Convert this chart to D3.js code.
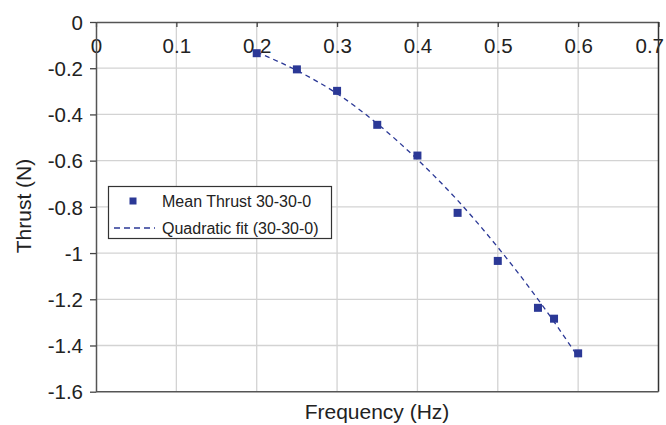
<!DOCTYPE html>
<html>
<head>
<meta charset="utf-8">
<script src="https://cdn.jsdelivr.net/npm/d3@7"></script>
<style>
  html, body { margin: 0; padding: 0; background: #fff; }
  svg { display: block; font-family: "Liberation Sans", Arial, sans-serif; }
</style>
</head>
<body>
<svg id="chart" width="666" height="425"></svg>
<script>
// ---- data ----
const freqs = [0.2, 0.25, 0.3, 0.35, 0.4, 0.45, 0.5, 0.55, 0.57, 0.6];
const meanThrust = [-0.135, -0.205, -0.298, -0.445, -0.578, -0.826, -1.034, -1.237, -1.284, -1.434];
const fitFreqs = [0.2, 0.25, 0.3, 0.35, 0.4, 0.45, 0.5, 0.55, 0.6];
const fitThrust = [-0.13, -0.21, -0.31, -0.44, -0.595, -0.772, -0.975, -1.2, -1.45];
const xTicks = [0, 0.1, 0.2, 0.3, 0.4, 0.5, 0.6, 0.7];
const yTicks = [0, -0.2, -0.4, -0.6, -0.8, -1, -1.2, -1.4, -1.6];
const seriesNames = ["Mean Thrust 30-30-0", "Quadratic fit (30-30-0)"];

(function () {
const svg = d3.select("#chart");
const mL = 96, mR = 658.5, mT = 22, mB = 391.7;
const color = "#2b3896";
const fmt = d => d === 0 ? "0" : (Number.isInteger(d) ? String(d) : d.toFixed(1));

const x = d3.scaleLinear().domain([0, 0.7]).range([mL, mR]);
const y = d3.scaleLinear().domain([0, -1.6]).range([mT, mB]);

// gridlines
const grid = svg.append("g");
grid.selectAll("line.v").data(xTicks.filter(t => t > 0 && t < 0.7)).enter().append("line")
  .attr("class", "v")
  .attr("x1", d => x(d)).attr("x2", d => x(d)).attr("y1", mT).attr("y2", mB)
  .attr("stroke", "#d3d3d3").attr("stroke-width", 1.3);
grid.selectAll("line.h").data(yTicks.filter(t => t < 0 && t > -1.6)).enter().append("line")
  .attr("class", "h")
  .attr("x1", mL).attr("x2", mR).attr("y1", d => y(d)).attr("y2", d => y(d))
  .attr("stroke", "#d3d3d3").attr("stroke-width", 1.3);

// top x axis (at y=0), ticks pointing down, labels below
const xAxis = d3.axisBottom(x).tickValues(xTicks).tickSize(5).tickSizeOuter(0).tickFormat(fmt);
const gx = svg.append("g").attr("transform", `translate(0,${mT})`).call(xAxis);
gx.select(".domain").attr("stroke", "#555").attr("stroke-width", 1.5);
gx.selectAll(".tick line").attr("stroke", "#444").attr("stroke-width", 1.3);
gx.selectAll(".tick text").attr("font-size", 20.5).attr("fill", "#222")
  .attr("font-family", "Liberation Sans, Arial, sans-serif").attr("dy", null).attr("y", 30.5)
  .filter(d => d === 0.7).attr("text-anchor", "end").attr("x", 5);

// left y axis
const yAxis = d3.axisLeft(y).tickValues(yTicks).tickSize(6).tickSizeOuter(0).tickFormat(fmt);
const gy = svg.append("g").attr("transform", `translate(${mL},0)`).call(yAxis);
gy.select(".domain").attr("stroke", "#555").attr("stroke-width", 1.5);
gy.selectAll(".tick line").attr("stroke", "#444").attr("stroke-width", 1.3);
gy.selectAll(".tick text").attr("font-size", 20.5).attr("fill", "#222")
  .attr("font-family", "Liberation Sans, Arial, sans-serif").attr("x", -13).attr("dy", "0.35em");

// frame right/bottom
svg.append("line").attr("x1", mR).attr("x2", mR).attr("y1", mT).attr("y2", mB)
  .attr("stroke", "#333").attr("stroke-width", 1.5);
svg.append("line").attr("x1", mL).attr("x2", mR).attr("y1", mB).attr("y2", mB)
  .attr("stroke", "#555").attr("stroke-width", 1.5);

// fit line
const line = d3.line().x((d, i) => x(fitFreqs[i])).y(d => y(d)).curve(d3.curveMonotoneX);
svg.append("path").datum(fitThrust).attr("d", line)
  .attr("fill", "none").attr("stroke", color).attr("stroke-width", 1.3)
  .attr("stroke-dasharray", "5,4");

// markers
const ms = 8;
svg.selectAll("rect.pt").data(meanThrust).enter().append("rect")
  .attr("class", "pt")
  .attr("x", (d, i) => x(freqs[i]) - ms / 2).attr("y", d => y(d) - ms / 2)
  .attr("width", ms).attr("height", ms).attr("fill", color);

// legend
const lg = svg.append("g");
lg.append("rect").attr("x", 108.5).attr("y", 186.5).attr("width", 223).attr("height", 52)
  .attr("fill", "#fff").attr("stroke", "#333").attr("stroke-width", 1.2);
lg.append("rect").attr("x", 129.5).attr("y", 197.5).attr("width", 7).attr("height", 7).attr("fill", color);
lg.append("line").attr("x1", 114).attr("x2", 155).attr("y1", 228).attr("y2", 228)
  .attr("stroke", color).attr("stroke-width", 1.5).attr("stroke-dasharray", "6,4");
lg.append("text").attr("x", 162).attr("y", 207).attr("font-size", 16).attr("fill", "#222").text(seriesNames[0]);
lg.append("text").attr("x", 162).attr("y", 234).attr("font-size", 16).attr("fill", "#222").text(seriesNames[1]);

// axis titles
svg.append("text").attr("x", 377).attr("y", 419).attr("text-anchor", "middle")
  .attr("font-size", 21).attr("fill", "#222").text("Frequency (Hz)");
svg.append("text").attr("transform", "translate(31,206) rotate(-90)").attr("text-anchor", "middle")
  .attr("font-size", 21).attr("fill", "#222").text("Thrust (N)");
})();
</script>
</body>
</html>
